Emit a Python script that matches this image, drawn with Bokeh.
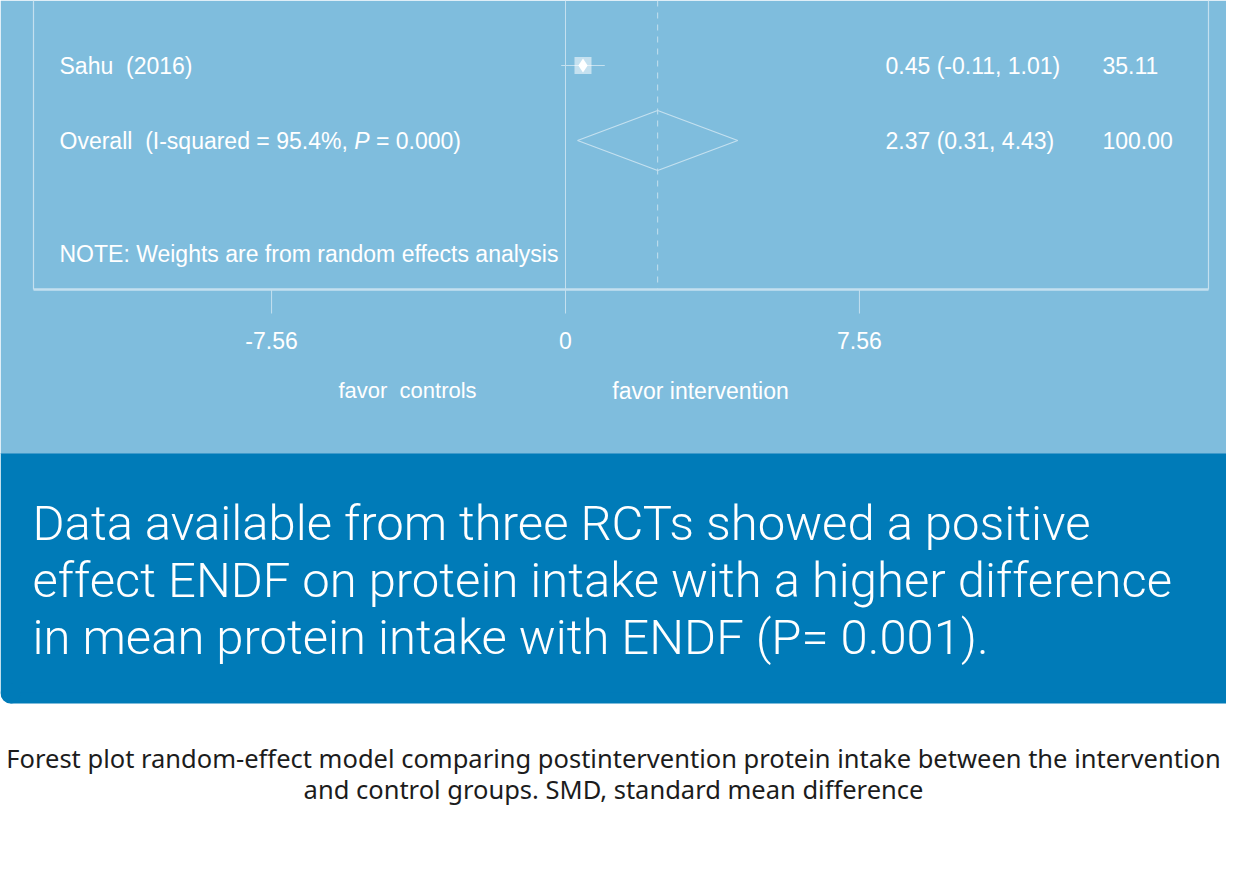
from bokeh.plotting import figure
from bokeh.models import Range1d, ColumnDataSource
from bokeh.core.properties import value
from bokeh.embed import file_html
from bokeh.resources import INLINE

# ---------------- data ----------------
studies = ["Sahu\u00a0 (2016)"]
smd = [0.45]
ci_low = [-0.11]
ci_high = [1.01]
weights = [35.11]

overall_smd = 2.37
overall_low = 0.31
overall_high = 4.43
overall_weight = 100.00
i_squared = 95.4
overall_p = "0.000"

tick_values = [-7.56, 0.0, 7.56]
tick_labels = ["-7.56", "0", "7.56"]
favor_labels = ["favor\u00a0 controls", "favor intervention"]
note_text = "NOTE: Weights are from random effects analysis"

summary_lines = [
    "Data available from three RCTs showed a positive",
    "effect ENDF on protein intake with a higher difference",
    "in mean protein intake with ENDF (P= 0.001).",
]
caption_lines = [
    "Forest plot random-effect model comparing postintervention protein intake between the intervention",
    "and control groups. SMD, standard mean difference",
]

# ---------------- layout / style ----------------
W, H = 1226, 866
OFF = 0
ZERO_PX, PX_PER_UNIT = 565, 38.88
LIGHT = "#7fbddd"
DARK = "#007bb8"
LINE = "#c4e0ef"
FONT = "Liberation Sans"
FS = 23

study_y = [65]
overall_y = 140
note_y = 253
box_bottom = 289
tick_end = 313
tick_label_y = 340
favor_y = 390
band_top, band_bottom = 453, 703
corner_r = 10
summary_y = [523, 580, 637]
caption_y = [757, 788]
box_left, box_right = 33, 1208
label_x, est_x, wt_x = 59, 885, 1102
favor_x = [407, 700]

p = figure(width=W, height=H,
           x_range=Range1d((OFF - ZERO_PX) / PX_PER_UNIT, (OFF + W - ZERO_PX) / PX_PER_UNIT),
           y_range=Range1d(OFF + H, OFF),
           output_backend="svg", toolbar_location=None,
           min_border=0, outline_line_color=None,
           x_axis_location=None, y_axis_location=None,
           background_fill_color="white", border_fill_color="white")
p.grid.visible = False
p.extra_x_ranges = {"px": Range1d(OFF, OFF + W)}

# backgrounds
p.quad(left=[OFF], right=[OFF + W], top=[OFF], bottom=[band_top], fill_color=LIGHT,
       line_color=None, x_range_name="px")
p.quad(left=[OFF], right=[OFF + W], top=[band_top], bottom=[band_bottom - corner_r],
       fill_color=DARK, line_color=None, x_range_name="px")
p.quad(left=[OFF + corner_r], right=[OFF + W], top=[band_bottom - corner_r - 1],
       bottom=[band_bottom], fill_color=DARK, line_color=None, x_range_name="px")
p.scatter(x=[OFF + corner_r], y=[band_bottom - corner_r], marker="circle",
          size=2 * corner_r, fill_color=DARK, line_color=None, x_range_name="px")
p.segment(x0=[OFF], y0=[band_top], x1=[OFF + W], y1=[band_top], line_color="#3f9acb",
          line_width=1, x_range_name="px")

# box
p.segment(x0=[box_left, box_right], y0=[OFF, OFF], x1=[box_left, box_right],
          y1=[box_bottom, box_bottom], line_color=LINE, line_width=1.2, x_range_name="px")
p.segment(x0=[box_left], y0=[box_bottom], x1=[box_right], y1=[box_bottom],
          line_color=LINE, line_width=2.5, x_range_name="px")

# null line and ticks (data units)
p.segment(x0=[0], y0=[OFF], x1=[0], y1=[box_bottom], line_color=LINE, line_width=1)
p.segment(x0=tick_values, y0=[box_bottom] * 3, x1=tick_values, y1=[tick_end] * 3,
          line_color=LINE, line_width=1)
p.text(x=tick_values, y=[tick_label_y] * 3, text=tick_labels, text_align="center",
       text_baseline="middle", text_color="white", text_font=value(FONT),
       text_font_size=f"{FS}px")

# overall dashed line
p.segment(x0=[overall_smd], y0=[OFF], x1=[overall_smd], y1=[box_bottom],
          line_color=LINE, line_width=1, line_dash="6 6")

# study CIs and markers
src = ColumnDataSource(dict(y=study_y, smd=smd, lo=ci_low, hi=ci_high))
p.segment(x0="lo", y0="y", x1="hi", y1="y", source=src, line_color=LINE, line_width=1)
p.scatter(x="smd", y="y", source=src, marker="square", size=17, fill_color="white",
          fill_alpha=0.55, line_color=None)
p.scatter(x="smd", y="y", source=src, marker="diamond", size=14, fill_color="white",
          line_color=None)

# overall diamond
p.patch(x=[overall_low, overall_smd, overall_high, overall_smd],
        y=[overall_y, overall_y - 30, overall_y, overall_y + 30],
        fill_color=None, line_color=LINE, line_width=1.3)

# left labels
txt = dict(text_color="white", text_font=value(FONT), text_font_size=f"{FS}px",
           text_baseline="middle", x_range_name="px")
p.text(x=[label_x] * len(studies), y=study_y, text=studies, **txt)

AW = {"O": 778, "v": 500, "e": 556, "r": 333, "a": 556, "l": 222, " ": 278, "\u00a0": 278,
      "(": 333, "I": 278, "-": 333, "s": 500, "q": 556, "u": 556, "d": 556, "=": 584,
      "9": 556, "5": 556, ".": 278, "4": 556, "%": 889, ",": 278, "P": 667, "0": 556, ")": 333}
def tw(s):
    return sum(AW.get(c, 556) for c in s) / 1000 * FS

part1 = f"Overall\u00a0 (I-squared = {i_squared:.1f}%,"
part2 = "P"
part3 = f"\u00a0= {overall_p})"
x1 = label_x
x2 = x1 + tw(part1) + tw(" ")
x3 = x2 + tw(part2)
p.text(x=[x1, x3], y=[overall_y] * 2, text=[part1, part3], **txt)
p.text(x=[x2], y=[overall_y], text=[part2], text_font_style="italic", **txt)
p.text(x=[label_x], y=[note_y], text=[note_text], **txt)

# right columns
est_txt = [f"{m:.2f} ({l:.2f}, {h:.2f})" for m, l, h in zip(smd, ci_low, ci_high)]
p.text(x=[est_x] * len(studies), y=study_y, text=est_txt, **txt)
p.text(x=[wt_x] * len(studies), y=study_y, text=[f"{w:.2f}" for w in weights], **txt)
p.text(x=[est_x], y=[overall_y],
       text=[f"{overall_smd:.2f} ({overall_low:.2f}, {overall_high:.2f})"], **txt)
p.text(x=[wt_x], y=[overall_y], text=[f"{overall_weight:.2f}"], **txt)

# favor labels
for fx, fl, fs in zip(favor_x, favor_labels, ["22px", "23px"]):
    p.text(x=[fx], y=[favor_y], text=[fl], text_align="center",
           text_baseline="middle", text_color="white", text_font=value(FONT),
           text_font_size=fs, x_range_name="px")

# summary band text
p.text(x=[32] * 3, y=summary_y, text=summary_lines, text_baseline="middle",
       text_color="white", text_font=value("Noto Sans Light, Roboto Light"),
       text_font_size="49px", x_range_name="px")

# caption
p.text(x=[W / 2] * 2, y=caption_y, text=caption_lines, text_align="center",
       text_baseline="middle", text_color="#1c1c1c", text_font=value("Noto Sans"),
       text_font_size="25.5px", x_range_name="px")

open("out.html", "w").write(file_html(p, INLINE))
